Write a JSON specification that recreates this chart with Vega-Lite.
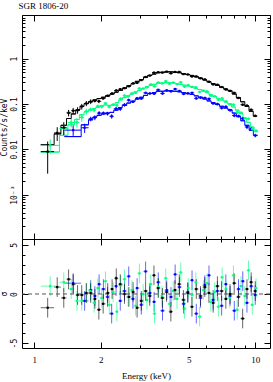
{
"$schema": "https://vega.github.io/schema/vega-lite/v6.json",
"padding": {"left": 0, "top": 1, "right": 0, "bottom": 0},
"background": "white",
"spacing": 0,
"bounds": "flush",
"datasets": {"d": [
{"s":"b","lo":1.37,"hi":1.63,"e":1.5,"m":0.0191,"y":0.0265,"d":0.0067,"r":1.1},
{"s":"b","lo":1.63,"hi":1.76,"e":1.69,"m":0.0347,"y":0.0299,"d":0.0069,"r":-0.7},
{"s":"b","lo":1.76,"hi":1.84,"e":1.8,"m":0.0447,"y":0.0469,"d":0.0054,"r":0.4},
{"s":"b","lo":1.84,"hi":1.92,"e":1.88,"m":0.0513,"y":0.0501,"d":0.0062,"r":-0.2},
{"s":"b","lo":1.92,"hi":2.01,"e":1.965,"m":0.0562,"y":0.0629,"d":0.0067,"r":1.0},
{"s":"b","lo":2.01,"hi":2.1,"e":2.055,"m":0.0603,"y":0.063,"d":0.0054,"r":0.5},
{"s":"b","lo":2.1,"hi":2.19,"e":2.145,"m":0.0631,"y":0.0614,"d":0.0057,"r":-0.3},
{"s":"b","lo":2.19,"hi":2.29,"e":2.24,"m":0.0653,"y":0.0535,"d":0.0059,"r":-2.0},
{"s":"b","lo":2.29,"hi":2.4,"e":2.345,"m":0.0733,"y":0.0786,"d":0.0066,"r":0.8},
{"s":"b","lo":2.4,"hi":2.5,"e":2.45,"m":0.0832,"y":0.078,"d":0.0075,"r":-0.7},
{"s":"b","lo":2.5,"hi":2.62,"e":2.56,"m":0.0933,"y":0.0958,"d":0.0084,"r":0.3},
{"s":"b","lo":2.62,"hi":2.73,"e":2.675,"m":0.105,"y":0.122,"d":0.0095,"r":1.8},
{"s":"b","lo":2.73,"hi":2.86,"e":2.795,"m":0.115,"y":0.112,"d":0.0069,"r":-0.5},
{"s":"b","lo":2.86,"hi":2.99,"e":2.92,"m":0.129,"y":0.134,"d":0.0077,"r":0.6},
{"s":"b","lo":2.99,"hi":3.12,"e":3.05,"m":0.141,"y":0.132,"d":0.0085,"r":-1.1},
{"s":"b","lo":3.12,"hi":3.26,"e":3.19,"m":0.155,"y":0.176,"d":0.0093,"r":2.3},
{"s":"b","lo":3.26,"hi":3.41,"e":3.335,"m":0.17,"y":0.171,"d":0.0102,"r":0.1},
{"s":"b","lo":3.41,"hi":3.56,"e":3.485,"m":0.178,"y":0.169,"d":0.0107,"r":-0.8},
{"s":"b","lo":3.56,"hi":3.72,"e":3.64,"m":0.191,"y":0.205,"d":0.0115,"r":1.2},
{"s":"b","lo":3.72,"hi":3.89,"e":3.805,"m":0.191,"y":0.171,"d":0.0115,"r":-1.7},
{"s":"b","lo":3.89,"hi":4.06,"e":3.975,"m":0.195,"y":0.2,"d":0.0117,"r":0.4},
{"s":"b","lo":4.06,"hi":4.25,"e":4.155,"m":0.195,"y":0.191,"d":0.0117,"r":-0.3},
{"s":"b","lo":4.25,"hi":4.44,"e":4.34,"m":0.191,"y":0.214,"d":0.0115,"r":2.0},
{"s":"b","lo":4.44,"hi":4.64,"e":4.54,"m":0.186,"y":0.194,"d":0.0112,"r":0.7},
{"s":"b","lo":4.64,"hi":4.85,"e":4.74,"m":0.178,"y":0.167,"d":0.0107,"r":-1.0},
{"s":"b","lo":4.85,"hi":5.06,"e":4.955,"m":0.17,"y":0.172,"d":0.0102,"r":0.2},
{"s":"b","lo":5.06,"hi":5.29,"e":5.175,"m":0.162,"y":0.176,"d":0.0097,"r":1.4},
{"s":"b","lo":5.29,"hi":5.53,"e":5.41,"m":0.151,"y":0.133,"d":0.0091,"r":-2.0},
{"s":"b","lo":5.53,"hi":5.78,"e":5.655,"m":0.141,"y":0.138,"d":0.0085,"r":-0.4},
{"s":"b","lo":5.78,"hi":6.04,"e":5.91,"m":0.129,"y":0.136,"d":0.0077,"r":0.9},
{"s":"b","lo":6.04,"hi":6.31,"e":6.175,"m":0.117,"y":0.13,"d":0.007,"r":1.9},
{"s":"b","lo":6.31,"hi":6.59,"e":6.45,"m":0.107,"y":0.103,"d":0.0064,"r":-0.6},
{"s":"b","lo":6.59,"hi":6.89,"e":6.74,"m":0.0977,"y":0.0997,"d":0.0068,"r":0.3},
{"s":"b","lo":6.89,"hi":7.2,"e":7.045,"m":0.0891,"y":0.0817,"d":0.0062,"r":-1.2},
{"s":"b","lo":7.2,"hi":7.52,"e":7.36,"m":0.0813,"y":0.087,"d":0.0057,"r":1.0},
{"s":"b","lo":7.52,"hi":7.86,"e":7.69,"m":0.0741,"y":0.0731,"d":0.0052,"r":-0.2},
{"s":"b","lo":7.86,"hi":8.22,"e":8.04,"m":0.0631,"y":0.0556,"d":0.0044,"r":-1.7},
{"s":"b","lo":8.22,"hi":8.59,"e":8.4,"m":0.0525,"y":0.0543,"d":0.0037,"r":0.5},
{"s":"b","lo":8.59,"hi":8.97,"e":8.78,"m":0.0427,"y":0.0476,"d":0.0038,"r":1.3},
{"s":"b","lo":8.97,"hi":9.38,"e":9.17,"m":0.0339,"y":0.0311,"d":0.0031,"r":-0.9},
{"s":"b","lo":9.38,"hi":9.8,"e":9.59,"m":0.0263,"y":0.0282,"d":0.0024,"r":0.8},
{"s":"b","lo":9.8,"hi":10.24,"e":10.0,"m":0.0204,"y":0.0202,"d":0.0018,"r":-0.1},
{"s":"g","lo":1.07,"hi":1.3,"e":1.18,"m":0.0087,"y":0.0122,"d":0.0044,"r":0.8},
{"s":"g","lo":1.3,"hi":1.42,"e":1.36,"m":0.0204,"y":0.0289,"d":0.0071,"r":1.2},
{"s":"g","lo":1.42,"hi":1.52,"e":1.47,"m":0.0347,"y":0.039,"d":0.0087,"r":0.5},
{"s":"g","lo":1.52,"hi":1.6,"e":1.56,"m":0.0457,"y":0.0393,"d":0.0091,"r":-0.7},
{"s":"g","lo":1.6,"hi":1.68,"e":1.64,"m":0.0575,"y":0.0506,"d":0.0098,"r":-0.7},
{"s":"g","lo":1.68,"hi":1.76,"e":1.72,"m":0.0676,"y":0.0686,"d":0.0101,"r":0.1},
{"s":"g","lo":1.76,"hi":1.83,"e":1.795,"m":0.0741,"y":0.0761,"d":0.0067,"r":0.3},
{"s":"g","lo":1.83,"hi":1.9,"e":1.865,"m":0.0794,"y":0.073,"d":0.0071,"r":-0.9},
{"s":"g","lo":1.9,"hi":1.98,"e":1.94,"m":0.0851,"y":0.0897,"d":0.0077,"r":0.6},
{"s":"g","lo":1.98,"hi":2.06,"e":2.02,"m":0.0912,"y":0.0879,"d":0.0082,"r":-0.4},
{"s":"g","lo":2.06,"hi":2.14,"e":2.1,"m":0.0955,"y":0.104,"d":0.0067,"r":1.3},
{"s":"g","lo":2.14,"hi":2.23,"e":2.185,"m":0.0933,"y":0.0862,"d":0.0065,"r":-1.1},
{"s":"g","lo":2.23,"hi":2.32,"e":2.275,"m":0.0955,"y":0.0968,"d":0.0067,"r":0.2},
{"s":"g","lo":2.32,"hi":2.41,"e":2.365,"m":0.107,"y":0.0935,"d":0.0075,"r":-1.8},
{"s":"g","lo":2.41,"hi":2.51,"e":2.46,"m":0.123,"y":0.131,"d":0.0086,"r":0.9},
{"s":"g","lo":2.51,"hi":2.61,"e":2.56,"m":0.138,"y":0.153,"d":0.0097,"r":1.5},
{"s":"g","lo":2.61,"hi":2.71,"e":2.66,"m":0.151,"y":0.148,"d":0.0106,"r":-0.3},
{"s":"g","lo":2.71,"hi":2.82,"e":2.765,"m":0.166,"y":0.171,"d":0.0116,"r":0.4},
{"s":"g","lo":2.82,"hi":2.93,"e":2.875,"m":0.186,"y":0.175,"d":0.0093,"r":-1.2},
{"s":"g","lo":2.93,"hi":3.05,"e":2.99,"m":0.2,"y":0.221,"d":0.01,"r":2.1},
{"s":"g","lo":3.05,"hi":3.17,"e":3.11,"m":0.219,"y":0.219,"d":0.011,"r":0.0},
{"s":"g","lo":3.17,"hi":3.3,"e":3.235,"m":0.24,"y":0.233,"d":0.012,"r":-0.6},
{"s":"g","lo":3.3,"hi":3.43,"e":3.365,"m":0.257,"y":0.27,"d":0.0129,"r":1.0},
{"s":"g","lo":3.43,"hi":3.57,"e":3.5,"m":0.272,"y":0.245,"d":0.0136,"r":-2.0},
{"s":"g","lo":3.57,"hi":3.71,"e":3.64,"m":0.288,"y":0.298,"d":0.0144,"r":0.7},
{"s":"g","lo":3.71,"hi":3.86,"e":3.785,"m":0.288,"y":0.285,"d":0.0144,"r":-0.2},
{"s":"g","lo":3.86,"hi":4.01,"e":3.935,"m":0.295,"y":0.319,"d":0.0148,"r":1.6},
{"s":"g","lo":4.01,"hi":4.17,"e":4.09,"m":0.295,"y":0.28,"d":0.0148,"r":-1.0},
{"s":"g","lo":4.17,"hi":4.34,"e":4.255,"m":0.292,"y":0.296,"d":0.0146,"r":0.3},
{"s":"g","lo":4.34,"hi":4.51,"e":4.425,"m":0.282,"y":0.275,"d":0.0141,"r":-0.5},
{"s":"g","lo":4.51,"hi":4.69,"e":4.6,"m":0.272,"y":0.302,"d":0.0136,"r":2.2},
{"s":"g","lo":4.69,"hi":4.88,"e":4.785,"m":0.26,"y":0.241,"d":0.013,"r":-1.5},
{"s":"g","lo":4.88,"hi":5.07,"e":4.975,"m":0.251,"y":0.259,"d":0.0126,"r":0.6},
{"s":"g","lo":5.07,"hi":5.28,"e":5.175,"m":0.24,"y":0.239,"d":0.012,"r":-0.1},
{"s":"g","lo":5.28,"hi":5.49,"e":5.385,"m":0.221,"y":0.234,"d":0.0111,"r":1.2},
{"s":"g","lo":5.49,"hi":5.71,"e":5.6,"m":0.209,"y":0.185,"d":0.0105,"r":-2.3},
{"s":"g","lo":5.71,"hi":5.94,"e":5.825,"m":0.193,"y":0.197,"d":0.0097,"r":0.4},
{"s":"g","lo":5.94,"hi":6.17,"e":6.055,"m":0.178,"y":0.189,"d":0.0098,"r":1.1},
{"s":"g","lo":6.17,"hi":6.42,"e":6.295,"m":0.16,"y":0.153,"d":0.0088,"r":-0.8},
{"s":"g","lo":6.42,"hi":6.68,"e":6.55,"m":0.146,"y":0.148,"d":0.008,"r":0.2},
{"s":"g","lo":6.68,"hi":6.94,"e":6.81,"m":0.133,"y":0.124,"d":0.0073,"r":-1.3},
{"s":"g","lo":6.94,"hi":7.22,"e":7.08,"m":0.122,"y":0.133,"d":0.0067,"r":1.7},
{"s":"g","lo":7.22,"hi":7.51,"e":7.365,"m":0.111,"y":0.114,"d":0.0061,"r":0.5},
{"s":"g","lo":7.51,"hi":7.81,"e":7.66,"m":0.101,"y":0.0988,"d":0.0056,"r":-0.4},
{"s":"g","lo":7.81,"hi":8.12,"e":7.965,"m":0.0861,"y":0.0967,"d":0.0056,"r":1.9},
{"s":"g","lo":8.12,"hi":8.45,"e":8.285,"m":0.0733,"y":0.0656,"d":0.0048,"r":-1.6},
{"s":"g","lo":8.45,"hi":8.79,"e":8.62,"m":0.061,"y":0.0642,"d":0.004,"r":0.8},
{"s":"g","lo":8.79,"hi":9.14,"e":8.965,"m":0.049,"y":0.0484,"d":0.0032,"r":-0.2},
{"s":"g","lo":9.14,"hi":9.5,"e":9.32,"m":0.0394,"y":0.0471,"d":0.0032,"r":2.4},
{"s":"g","lo":9.5,"hi":9.88,"e":9.69,"m":0.0309,"y":0.0282,"d":0.0025,"r":-1.1},
{"s":"g","lo":9.88,"hi":10.28,"e":10.08,"m":0.0245,"y":0.0257,"d":0.002,"r":0.6},
{"s":"a","lo":1.07,"hi":1.23,"e":1.15,"m":0.0126,"y":0.0089,"d":0.006,"r":-1.4},
{"s":"a","lo":1.23,"hi":1.32,"e":1.27,"m":0.0219,"y":0.023,"d":0.0077,"r":0.7},
{"s":"a","lo":1.32,"hi":1.4,"e":1.36,"m":0.0339,"y":0.0301,"d":0.0095,"r":-0.4},
{"s":"a","lo":1.4,"hi":1.47,"e":1.43,"m":0.0479,"y":0.0637,"d":0.0105,"r":1.5},
{"s":"a","lo":1.47,"hi":1.54,"e":1.5,"m":0.0603,"y":0.0712,"d":0.0109,"r":1.0},
{"s":"a","lo":1.54,"hi":1.61,"e":1.57,"m":0.0741,"y":0.0729,"d":0.0119,"r":-0.1},
{"s":"a","lo":1.61,"hi":1.68,"e":1.64,"m":0.0891,"y":0.0879,"d":0.0125,"r":-0.1},
{"s":"a","lo":1.68,"hi":1.76,"e":1.72,"m":0.102,"y":0.103,"d":0.0133,"r":0.1},
{"s":"a","lo":1.76,"hi":1.84,"e":1.8,"m":0.112,"y":0.113,"d":0.0134,"r":0.1},
{"s":"a","lo":1.84,"hi":1.92,"e":1.88,"m":0.123,"y":0.118,"d":0.0098,"r":-0.5},
{"s":"a","lo":1.92,"hi":2.01,"e":1.96,"m":0.132,"y":0.115,"d":0.0106,"r":-1.6},
{"s":"a","lo":2.01,"hi":2.1,"e":2.05,"m":0.141,"y":0.133,"d":0.0085,"r":-1.0},
{"s":"a","lo":2.1,"hi":2.2,"e":2.15,"m":0.151,"y":0.152,"d":0.0091,"r":0.1},
{"s":"a","lo":2.2,"hi":2.3,"e":2.25,"m":0.166,"y":0.171,"d":0.01,"r":0.5},
{"s":"a","lo":2.3,"hi":2.4,"e":2.35,"m":0.182,"y":0.199,"d":0.0109,"r":1.6},
{"s":"a","lo":2.4,"hi":2.51,"e":2.45,"m":0.2,"y":0.212,"d":0.012,"r":1.0},
{"s":"a","lo":2.51,"hi":2.62,"e":2.56,"m":0.224,"y":0.224,"d":0.0112,"r":0.0},
{"s":"a","lo":2.62,"hi":2.74,"e":2.68,"m":0.251,"y":0.247,"d":0.0126,"r":-0.3},
{"s":"a","lo":2.74,"hi":2.86,"e":2.8,"m":0.282,"y":0.285,"d":0.0141,"r":0.2},
{"s":"a","lo":2.86,"hi":2.99,"e":2.92,"m":0.316,"y":0.294,"d":0.0158,"r":-1.4},
{"s":"a","lo":2.99,"hi":3.12,"e":3.05,"m":0.347,"y":0.337,"d":0.0139,"r":-0.7},
{"s":"a","lo":3.12,"hi":3.26,"e":3.19,"m":0.389,"y":0.394,"d":0.0156,"r":0.3},
{"s":"a","lo":3.26,"hi":3.41,"e":3.33,"m":0.427,"y":0.424,"d":0.0171,"r":-0.2},
{"s":"a","lo":3.41,"hi":3.56,"e":3.48,"m":0.457,"y":0.492,"d":0.0183,"r":1.9},
{"s":"a","lo":3.56,"hi":3.72,"e":3.64,"m":0.49,"y":0.502,"d":0.0196,"r":0.6},
{"s":"a","lo":3.72,"hi":3.89,"e":3.8,"m":0.501,"y":0.493,"d":0.02,"r":-0.4},
{"s":"a","lo":3.89,"hi":4.06,"e":3.97,"m":0.513,"y":0.517,"d":0.0205,"r":0.2},
{"s":"a","lo":4.06,"hi":4.24,"e":4.15,"m":0.513,"y":0.476,"d":0.0205,"r":-1.8},
{"s":"a","lo":4.24,"hi":4.43,"e":4.33,"m":0.501,"y":0.509,"d":0.02,"r":0.4},
{"s":"a","lo":4.43,"hi":4.63,"e":4.53,"m":0.49,"y":0.51,"d":0.0196,"r":1.0},
{"s":"a","lo":4.63,"hi":4.84,"e":4.73,"m":0.468,"y":0.457,"d":0.0187,"r":-0.6},
{"s":"a","lo":4.84,"hi":5.06,"e":4.95,"m":0.447,"y":0.449,"d":0.0179,"r":0.1},
{"s":"a","lo":5.06,"hi":5.29,"e":5.17,"m":0.427,"y":0.405,"d":0.0171,"r":-1.3},
{"s":"a","lo":5.29,"hi":5.53,"e":5.41,"m":0.398,"y":0.406,"d":0.0159,"r":0.5},
{"s":"a","lo":5.53,"hi":5.78,"e":5.65,"m":0.372,"y":0.369,"d":0.0149,"r":-0.2},
{"s":"a","lo":5.78,"hi":6.04,"e":5.91,"m":0.339,"y":0.349,"d":0.0136,"r":0.7},
{"s":"a","lo":6.04,"hi":6.31,"e":6.17,"m":0.309,"y":0.31,"d":0.0139,"r":0.1},
{"s":"a","lo":6.31,"hi":6.59,"e":6.45,"m":0.282,"y":0.271,"d":0.0127,"r":-0.9},
{"s":"a","lo":6.59,"hi":6.89,"e":6.74,"m":0.257,"y":0.266,"d":0.0116,"r":0.8},
{"s":"a","lo":6.89,"hi":7.2,"e":7.04,"m":0.234,"y":0.237,"d":0.0105,"r":0.3},
{"s":"a","lo":7.2,"hi":7.52,"e":7.36,"m":0.214,"y":0.209,"d":0.0096,"r":-0.5},
{"s":"a","lo":7.52,"hi":7.86,"e":7.69,"m":0.195,"y":0.195,"d":0.0088,"r":0.0},
{"s":"a","lo":7.86,"hi":8.21,"e":8.03,"m":0.166,"y":0.176,"d":0.0091,"r":1.1},
{"s":"a","lo":8.21,"hi":8.58,"e":8.39,"m":0.138,"y":0.136,"d":0.0076,"r":-0.3},
{"s":"a","lo":8.58,"hi":8.97,"e":8.77,"m":0.112,"y":0.0965,"d":0.0062,"r":-2.5},
{"s":"a","lo":8.97,"hi":9.37,"e":9.17,"m":0.0891,"y":0.092,"d":0.0058,"r":0.5},
{"s":"a","lo":9.37,"hi":9.79,"e":9.58,"m":0.0692,"y":0.0746,"d":0.0045,"r":1.2},
{"s":"a","lo":9.79,"hi":10.2,"e":10.0,"m":0.0537,"y":0.0547,"d":0.0035,"r":0.3}
]},
"vconcat": [
{
 "width": 248, "height": 224,
 "title": {"text": "SGR 1806-20", "anchor": "start", "dx": 18, "offset": 4, "fontSize": 9, "font": "Liberation Serif", "fontWeight": "normal", "color": "#000"},
 "data": {"name": "d"},
 "resolve": {"axis": {"x": "independent", "y": "independent"}},
 "layer": [
  {"mark": {"type": "line", "interpolate": "step-after", "strokeWidth": 1},
   "encoding": {
    "x": {"field": "lo", "type": "quantitative", "scale": {"type": "log", "domain": [0.88, 11.66], "nice": false},
          "axis": {"orient": "bottom", "values": [1,2,3,4,5,6,7,8,9,10], "labels": false, "title": null,
                   "tickSize": {"condition": {"test": "datum.value==1||datum.value==2||datum.value==5||datum.value==10", "value": -6}, "value": -3}}},
    "y": {"field": "m", "type": "quantitative", "scale": {"type": "log", "domain": [0.000105, 9.2], "nice": false},
          "axis": {"orient": "left",
                   "values": [0.0002,0.0003,0.0004,0.0005,0.0006,0.0007,0.0008,0.0009,0.001,0.002,0.003,0.004,0.005,0.006,0.007,0.008,0.009,0.01,0.02,0.03,0.04,0.05,0.06,0.07,0.08,0.09,0.1,0.2,0.3,0.4,0.5,0.6,0.7,0.8,0.9,1,2,3,4,5,6,7,8,9],
                   "labelExpr": "datum.value==1?'1':datum.value==0.1?'0.1':datum.value==0.01?'0.01':datum.value==0.001?'10⁻³':''",
                   "labelAngle": -90, "labelAlign": "center", "labelBaseline": "middle", "labelPadding": 13.5,
                   "labelFont": "DejaVu Sans Mono", "labelFontSize": 8, "labelColor": "#000", "labelOverlap": false, "labelFlush": false,
                   "title": "Counts/s/keV", "titleFont": "DejaVu Sans Mono", "titleFontSize": 8, "titleFontWeight": "normal", "titleColor": "#000",
                   "titleX": -17.5, "titleY": 112, "titleAngle": -90, "titleAlign": "center", "titleBaseline": "middle",
                   "tickSize": {"condition": {"test": "datum.value==1||datum.value==0.1||datum.value==0.01||datum.value==0.001", "value": -6}, "value": -3}}},
    "color": {"field": "s", "type": "nominal", "scale": {"domain": ["a","g","b"], "range": ["#000000","#00ff80","#0000ff"]}, "legend": null}}},
  {"mark": {"type": "rule", "strokeWidth": 1},
   "encoding": {
    "x": {"field": "lo", "type": "quantitative", "scale": {"type": "log", "domain": [0.88, 11.66], "nice": false}, "axis": null},
    "x2": {"field": "hi"},
    "y": {"field": "m", "type": "quantitative", "scale": {"type": "log", "domain": [0.000105, 9.2], "nice": false}, "axis": null},
    "color": {"field": "s", "type": "nominal", "scale": {"domain": ["a","g","b"], "range": ["#000000","#00ff80","#0000ff"]}, "legend": null}}},
  {"mark": {"type": "rule", "strokeWidth": 1},
   "encoding": {
    "x": {"field": "lo", "type": "quantitative", "scale": {"type": "log", "domain": [0.88, 11.66], "nice": false}, "axis": null},
    "x2": {"field": "hi"},
    "y": {"field": "y", "type": "quantitative", "scale": {"type": "log", "domain": [0.000105, 9.2], "nice": false}, "axis": null},
    "color": {"field": "s", "type": "nominal", "scale": {"domain": ["a","g","b"], "range": ["#000000","#00ff80","#0000ff"]}, "legend": null}}},
  {"mark": {"type": "errorbar", "thickness": 1},
   "encoding": {
    "x": {"field": "e", "type": "quantitative", "scale": {"type": "log", "domain": [0.88, 11.66], "nice": false}, "axis": null},
    "y": {"field": "y", "type": "quantitative", "scale": {"type": "log", "domain": [0.000105, 9.2], "nice": false}, "axis": null},
    "yError": {"field": "d"},
    "color": {"field": "s", "type": "nominal", "scale": {"domain": ["a","g","b"], "range": ["#000000","#00ff80","#0000ff"]}, "legend": null}}},
  {"mark": {"type": "square", "size": 5, "opacity": 1},
   "encoding": {
    "x": {"field": "e", "type": "quantitative", "scale": {"type": "log", "domain": [0.88, 11.66], "nice": false}, "axis": null},
    "y": {"field": "y", "type": "quantitative", "scale": {"type": "log", "domain": [0.000105, 9.2], "nice": false}, "axis": null},
    "color": {"field": "s", "type": "nominal", "scale": {"domain": ["a","g","b"], "range": ["#000000","#00ff80","#0000ff"]}, "legend": null}}},
  {"mark": {"type": "point", "opacity": 0},
   "encoding": {
    "x": {"field": "e", "type": "quantitative", "scale": {"type": "log", "domain": [0.88, 11.66], "nice": false},
          "axis": {"orient": "top", "values": [1,2,3,4,5,6,7,8,9,10], "labels": false, "title": null,
                   "tickSize": {"condition": {"test": "datum.value==1||datum.value==2||datum.value==5||datum.value==10", "value": -6}, "value": -3}}},
    "y": {"field": "y", "type": "quantitative", "scale": {"type": "log", "domain": [0.000105, 9.2], "nice": false},
          "axis": {"orient": "right", "labels": false, "title": null,
                   "values": [0.0002,0.0003,0.0004,0.0005,0.0006,0.0007,0.0008,0.0009,0.001,0.002,0.003,0.004,0.005,0.006,0.007,0.008,0.009,0.01,0.02,0.03,0.04,0.05,0.06,0.07,0.08,0.09,0.1,0.2,0.3,0.4,0.5,0.6,0.7,0.8,0.9,1,2,3,4,5,6,7,8,9],
                   "tickSize": {"condition": {"test": "datum.value==1||datum.value==0.1||datum.value==0.01||datum.value==0.001", "value": -6}, "value": -3}}}}}
 ]
},
{
 "width": 248, "height": 109,
 "data": {"name": "d"},
 "resolve": {"axis": {"x": "independent", "y": "independent"}},
 "layer": [
  {"mark": {"type": "rule", "strokeWidth": 1, "opacity": 0.6},
   "encoding": {
    "x": {"field": "lo", "type": "quantitative", "scale": {"type": "log", "domain": [0.88, 11.66], "nice": false},
          "axis": {"orient": "bottom", "values": [1,2,3,4,5,6,7,8,9,10],
                   "labelExpr": "(datum.value==1||datum.value==2||datum.value==5||datum.value==10)?''+datum.value:''",
                   "labelFont": "Liberation Serif", "labelFontSize": 9, "labelColor": "#000", "labelAngle": 0, "labelAlign": "center", "labelBaseline": "middle", "labelPadding": 17.5, "labelOverlap": false, "labelFlush": false,
                   "title": "Energy (keV)", "titleFont": "Liberation Serif", "titleFontSize": 9, "titleFontWeight": "normal", "titleColor": "#000",
                   "titleX": 124, "titleY": 27, "titleAlign": "center", "titleBaseline": "middle",
                   "tickSize": {"condition": {"test": "datum.value==1||datum.value==2||datum.value==5||datum.value==10", "value": -6}, "value": -3}}},
    "x2": {"field": "hi"},
    "y": {"field": "r", "type": "quantitative", "scale": {"domain": [-5.5, 5.6], "nice": false, "zero": false},
          "axis": {"orient": "left", "values": [-5,-4,-3,-2,-1,0,1,2,3,4,5],
                   "labelExpr": "datum.value==5?'5':datum.value==0?'0':datum.value==-5?'-5':''",
                   "labelAngle": -90, "labelAlign": "center", "labelBaseline": "middle", "labelPadding": 14,
                   "labelFont": "DejaVu Sans Mono", "labelFontSize": 8, "labelColor": "#000", "labelOverlap": false, "labelFlush": false,
                   "title": "σ", "titleFont": "DejaVu Sans Mono", "titleFontSize": 8, "titleFontWeight": "normal", "titleColor": "#000",
                   "titleX": -17.5, "titleY": 54.5, "titleAngle": -90, "titleAlign": "center", "titleBaseline": "middle",
                   "tickSize": {"condition": {"test": "datum.value==5||datum.value==0||datum.value==-5", "value": -6}, "value": -3}}},
    "color": {"field": "s", "type": "nominal", "scale": {"domain": ["a","g","b"], "range": ["#000000","#00ff80","#0000ff"]}, "legend": null}}},
  {"transform": [{"calculate": "datum.r-1", "as": "rl"}, {"calculate": "datum.r+1", "as": "rh"}],
   "mark": {"type": "rule", "strokeWidth": 1, "opacity": 0.6},
   "encoding": {
    "x": {"field": "e", "type": "quantitative", "scale": {"type": "log", "domain": [0.88, 11.66], "nice": false}, "axis": null},
    "y": {"field": "rl", "type": "quantitative", "scale": {"domain": [-5.5, 5.6], "nice": false, "zero": false}, "axis": null},
    "y2": {"field": "rh"},
    "color": {"field": "s", "type": "nominal", "scale": {"domain": ["a","g","b"], "range": ["#000000","#00ff80","#0000ff"]}, "legend": null}}},
  {"data": {"values": [{}]},
   "mark": {"type": "rule", "strokeDash": [4, 3], "color": "#555555", "strokeWidth": 1},
   "encoding": {"y": {"datum": 0, "type": "quantitative", "scale": {"domain": [-5.5, 5.6], "nice": false, "zero": false}, "axis": null}}},
  {"mark": {"type": "square", "size": 5, "opacity": 1},
   "encoding": {
    "x": {"field": "e", "type": "quantitative", "scale": {"type": "log", "domain": [0.88, 11.66], "nice": false}, "axis": null},
    "y": {"field": "r", "type": "quantitative", "scale": {"domain": [-5.5, 5.6], "nice": false, "zero": false}, "axis": null},
    "color": {"field": "s", "type": "nominal", "scale": {"domain": ["a","g","b"], "range": ["#000000","#00ff80","#0000ff"]}, "legend": null}}},
  {"mark": {"type": "point", "opacity": 0},
   "encoding": {
    "x": {"field": "e", "type": "quantitative", "scale": {"type": "log", "domain": [0.88, 11.66], "nice": false},
          "axis": {"orient": "top", "values": [1,2,3,4,5,6,7,8,9,10], "labels": false, "title": null,
                   "tickSize": {"condition": {"test": "datum.value==1||datum.value==2||datum.value==5||datum.value==10", "value": -6}, "value": -3}}},
    "y": {"field": "r", "type": "quantitative", "scale": {"domain": [-5.5, 5.6], "nice": false, "zero": false},
          "axis": {"orient": "right", "values": [-5,-4,-3,-2,-1,0,1,2,3,4,5], "labels": false, "title": null,
                   "tickSize": {"condition": {"test": "datum.value==5||datum.value==0||datum.value==-5", "value": -6}, "value": -3}}}}}
 ]
}
],
"config": {
 "view": {"stroke": "#000000", "strokeWidth": 1},
 "axis": {"domain": false, "grid": false, "tickColor": "#000000", "tickWidth": 1},
 "concat": {"spacing": 0}
}
}
